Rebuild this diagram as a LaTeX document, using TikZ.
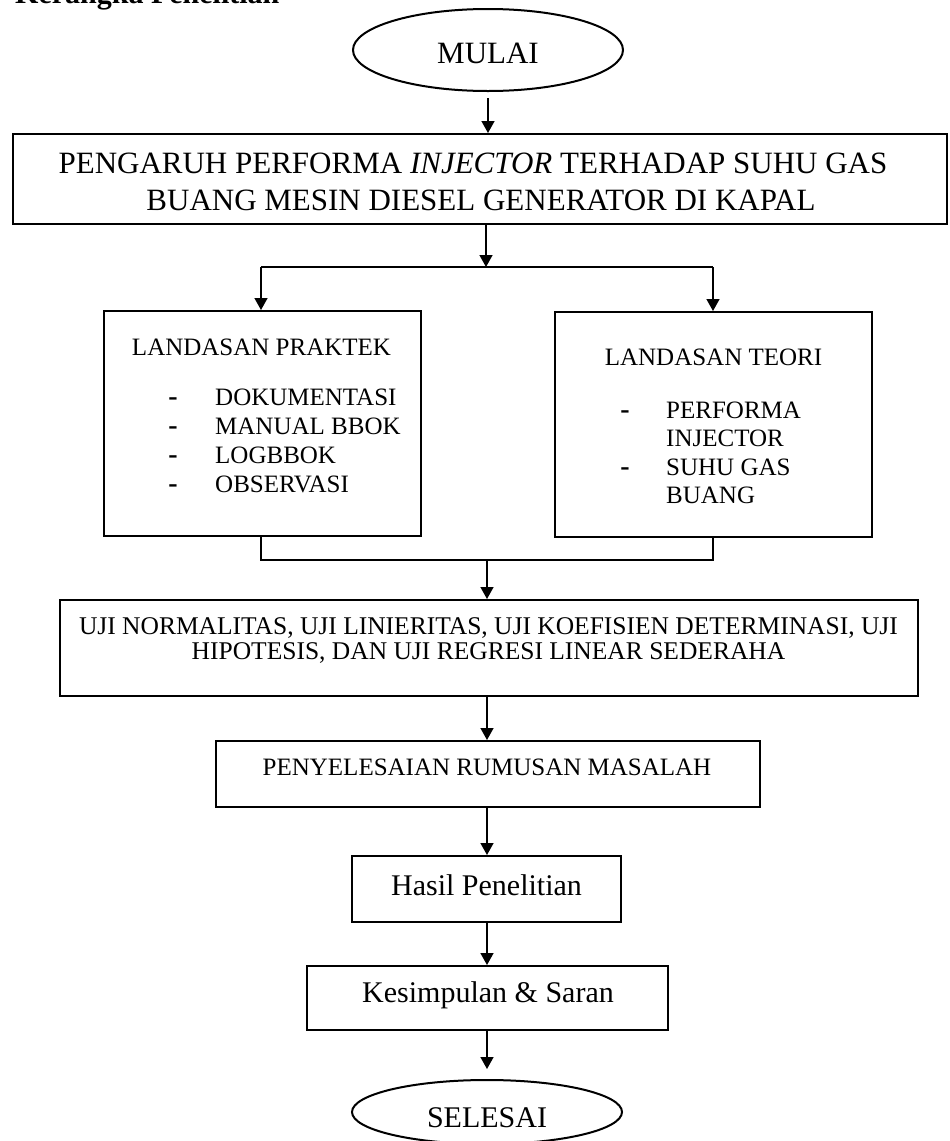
\documentclass[tikz,border=0pt]{standalone}
\usepackage{fontspec}
\setmainfont{Liberation Serif}
\usetikzlibrary{arrows.meta,shapes.geometric}
\begin{document}
\begin{tikzpicture}[x=1pt,y=-1pt,
  box/.style={draw,line width=2pt,inner sep=0pt},
  oval/.style={draw,ellipse,line width=2pt,inner sep=0pt},
  conn/.style={line width=1.5pt},
  arr/.style={line width=1.5pt,-{Triangle[length=12pt,width=13pt]}},
  big/.style={font=\fontsize{30}{36}\selectfont,inner sep=0pt,anchor=base},
  bigger/.style={font=\fontsize{31}{37}\selectfont,inner sep=0pt,anchor=base},
  mid/.style={font=\fontsize{25}{29}\selectfont,inner sep=0pt,anchor=base},
  small/.style={font=\fontsize{25.5}{24}\selectfont,inner sep=0pt,anchor=base},
  dashmark/.style={font=\fontsize{28}{29}\selectfont\bfseries,inner sep=0pt,anchor=base},
  item/.style={font=\fontsize{25}{29}\selectfont,inner sep=0pt,anchor=base west}]
\useasboundingbox (0,0) rectangle (950,1141);

% heading (cut at the top, as in the reference)
\node[font=\fontsize{30}{36}\selectfont\bfseries,inner sep=0pt,anchor=base west] (head) at (15,3) {Kerangka Penelitian};

% shapes
\node[oval,minimum width=270pt,minimum height=82pt] (mulai) at (488,50) {};
\node[box,minimum width=934pt,minimum height=90pt] (title) at (480,179) {};
\node[box,minimum width=317pt,minimum height=225pt] (praktek) at (262.5,423.5) {};
\node[box,minimum width=317pt,minimum height=225pt] (teori) at (713.5,424.5) {};
\node[box,minimum width=858pt,minimum height=96pt] (uji) at (489,648) {};
\node[box,minimum width=544pt,minimum height=66pt] (peny) at (488,774) {};
\node[box,minimum width=269pt,minimum height=66pt] (hasil) at (486.5,889) {};
\node[box,minimum width=361pt,minimum height=64pt] (kesim) at (487.5,998) {};
\node[oval,minimum width=270pt,minimum height=64pt] (selesai) at (487,1112) {};

% texts
\node[bigger] (tmulai) at (488,63) {MULAI};
\node[bigger] (ttitle1) at (473,173) {PENGARUH PERFORMA \textit{INJECTOR} TERHADAP SUHU GAS};
\node[bigger] (ttitle2) at (481,210) {BUANG MESIN DIESEL GENERATOR DI KAPAL};

\node[mid] (tprak) at (261.5,355) {LANDASAN PRAKTEK};
\node[dashmark] (dp1) at (173,405) {-};
\node[dashmark] (dp2) at (173,434) {-};
\node[dashmark] (dp3) at (173,463) {-};
\node[dashmark] (dp4) at (173,492) {-};
\node[item] (ip1) at (215,405) {DOKUMENTASI};
\node[item] (ip2) at (215,434) {MANUAL BBOK};
\node[item] (ip3) at (215,463) {LOGBBOK};
\node[item] (ip4) at (215,492) {OBSERVASI};

\node[mid] (tteori) at (713.5,365) {LANDASAN TEORI};
\node[dashmark] (dt1) at (625,418) {-};
\node[dashmark] (dt2) at (625,475) {-};
\node[item] (it1) at (666,418) {PERFORMA};
\node[item] (it2) at (666,446) {INJECTOR};
\node[item] (it3) at (666,475) {SUHU GAS};
\node[item] (it4) at (666,503) {BUANG};

\node[small] (tuji1) at (488.5,634) {UJI NORMALITAS, UJI LINIERITAS, UJI KOEFISIEN DETERMINASI, UJI};
\node[small] (tuji2) at (488.5,659) {HIPOTESIS, DAN UJI REGRESI LINEAR SEDERAHA};
\node[mid] (tpeny) at (487,775) {PENYELESAIAN RUMUSAN MASALAH};
\node[big] (thasil) at (486.5,895) {Hasil Penelitian};
\node[big] (tkesim) at (488,1002) {Kesimpulan \& Saran};
\node[big] (tsel) at (487,1127) {SELESAI};

% connectors
\coordinate (split) at (486,267);
\coordinate (bl) at (261,267);
\coordinate (br) at (713,267);
\coordinate (ml) at (261,560);
\coordinate (mr) at (713,560);
\coordinate (mj) at (487,560);

\draw[arr,shorten <=6pt] (mulai.south) -- (mulai.south |- title.north);
\draw[arr] (split |- title.south) -- (split);
\draw[conn] (bl) -- (br);
\draw[arr] (bl) -- (bl |- praktek.north);
\draw[arr] (br) -- (br |- teori.north);
\draw[conn] (ml |- praktek.south) -- (ml) -- (mr) -- (mr |- teori.south);
\draw[arr] (mj) -- (mj |- uji.north);
\draw[arr] (mj |- uji.south) -- (mj |- peny.north);
\draw[arr] (mj |- peny.south) -- (mj |- hasil.north);
\draw[arr] (mj |- hasil.south) -- (mj |- kesim.north);
\draw[arr,shorten >=10pt] (mj |- kesim.south) -- (mj |- selesai.north);
\end{tikzpicture}
\end{document}
